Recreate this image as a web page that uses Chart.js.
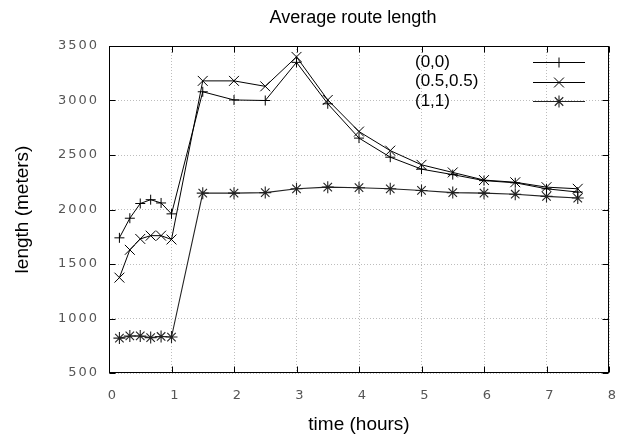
<!DOCTYPE html>
<html><head><meta charset="utf-8">
<script src="https://cdn.jsdelivr.net/npm/chart.js@4/dist/chart.umd.min.js"></script>
<style>html,body{margin:0;padding:0;background:#fff}canvas{display:block}</style>
</head><body>
<canvas id="c" width="617" height="436"></canvas>
<script>
// ---- data ----
const times  = [0.1667, 0.3333, 0.5, 0.6667, 0.8333, 1.0, 1.5, 2.0, 2.5, 3.0, 3.5, 4.0, 4.5, 5.0, 5.5, 6.0, 6.5, 7.0, 7.5];
const len00  = [1740, 1920, 2055, 2090, 2060, 1960, 3080, 3005, 3000, 3350, 2970, 2655, 2480, 2370, 2320, 2265, 2245, 2190, 2160];
const len55  = [1375, 1630, 1730, 1760, 1760, 1725, 3180, 3180, 3130, 3400, 3005, 2715, 2540, 2410, 2340, 2270, 2250, 2205, 2190];
const len11  = [820, 840, 840, 825, 835, 830, 2150, 2150, 2155, 2190, 2205, 2200, 2190, 2175, 2155, 2150, 2140, 2120, 2105];
const seriesLabels = ['(0,0)', '(0.5,0.5)', '(1,1)'];
const xTickMin = 0, xTickMax = 8, xTickStep = 1;
const yTickMin = 500, yTickMax = 3500, yTickStep = 500;
const chartTitle = 'Average route length';
const xTitle = 'time (hours)';
const yTitle = 'length (meters)';

const toPts = arr => times.map((t, i) => ({x: t, y: arr[i]}));

const styles = [
  {pointStyle: 'cross', pointRadius: 5, borderColor: '#000', borderWidth: 1},
  {pointStyle: 'crossRot', pointRadius: 7, borderColor: '#000', borderWidth: 1},
  {pointStyle: 'star', pointRadius: 6, borderColor: '#222', borderWidth: 1.1}
];
const series = [len00, len55, len11];

const TXT = '"Liberation Sans", Arial, sans-serif';

const framePlugin = {
  id: 'frame',
  afterDatasetsDraw(chart) { chart.ctx.letterSpacing = '2px'; },
  afterDraw(chart) {
    const {ctx, chartArea: a, scales: {x, y}} = chart;
    ctx.save();
    ctx.letterSpacing = '0px';
    ctx.strokeStyle = '#000';
    ctx.lineWidth = 1;
    ctx.setLineDash([]);
    const L = Math.round(a.left) + 0.5, R = Math.round(a.right) - 0.5;
    const T = Math.round(a.top) + 0.5, B = Math.round(a.bottom) - 0.5;
    ctx.strokeRect(L, T, R - L, B - T);
    const tl = 6;
    ctx.beginPath();
    x.ticks.forEach(t => {
      const px = Math.round(x.getPixelForValue(t.value)) + 0.5;
      ctx.moveTo(px, B); ctx.lineTo(px, B - tl);
      ctx.moveTo(px, T); ctx.lineTo(px, T + tl);
    });
    y.ticks.forEach(t => {
      const py = Math.round(y.getPixelForValue(t.value)) + 0.5;
      ctx.moveTo(L, py); ctx.lineTo(L + tl, py);
      ctx.moveTo(R, py); ctx.lineTo(R - tl, py);
    });
    ctx.stroke();

    // title
    ctx.fillStyle = '#000';
    ctx.font = '18px ' + TXT;
    ctx.textAlign = 'center';
    ctx.textBaseline = 'alphabetic';
    ctx.fillText(chartTitle, (a.left + a.right) / 2 - 6, 23);

    // legend (text, then sample line with marker)
    ctx.font = '17px ' + TXT;
    ctx.textAlign = 'left';
    ctx.textBaseline = 'middle';
    chart.data.datasets.forEach((ds, i) => {
      const yy = a.top + 16 + i * 19.5;
      ctx.fillStyle = '#000';
      ctx.fillText(ds.label, a.right - 194, yy);
      ctx.strokeStyle = ds.borderColor;
      ctx.lineWidth = ds.borderWidth;
      ctx.beginPath();
      ctx.moveTo(a.right - 76, Math.round(yy) + 0.5);
      ctx.lineTo(a.right - 24, Math.round(yy) + 0.5);
      ctx.stroke();
      Chart.helpers.drawPoint(ctx, {pointStyle: ds.pointStyle, radius: ds.pointRadius, rotation: 0, borderWidth: ds.borderWidth}, a.right - 50, Math.round(yy) + 0.5);
    });
    ctx.restore();
  }
};

new Chart(document.getElementById('c'), {
  type: 'scatter',
  data: {
    datasets: series.map((s, i) => ({
      label: seriesLabels[i],
      data: toPts(s),
      showLine: true,
      tension: 0,
      backgroundColor: 'transparent',
      pointBorderColor: styles[i].borderColor,
      pointBorderWidth: styles[i].borderWidth,
      ...styles[i]
    }))
  },
  options: {
    responsive: false,
    animation: false,
    devicePixelRatio: 1,
    layout: {padding: {top: 46, right: 8, left: 0, bottom: 0}},
    plugins: {legend: {display: false}, title: {display: false}, tooltip: {enabled: false}},
    scales: {
      x: {
        type: 'linear', min: xTickMin, max: xTickMax,
        afterFit: s => { s.height = 63; s.paddingLeft = 0; s.paddingRight = 0; },
        ticks: {stepSize: xTickStep, z: 1, padding: 15, labelOffset: 4, color: '#555', font: {family: '"DejaVu Sans"', size: 13}, maxRotation: 0,
                callback: v => String(v)},
        grid: {color: '#bdbdbd', drawTicks: false, lineWidth: 1},
        border: {display: false, dash: [1, 2]},
        title: {display: true, text: xTitle, color: '#000', font: {family: TXT, size: 19}, padding: {top: 0, bottom: 0}}
      },
      y: {
        type: 'linear', min: yTickMin, max: yTickMax,
        afterFit: s => { s.width = 109; s.paddingTop = 0; s.paddingBottom = 0; },
        ticks: {stepSize: yTickStep, z: 1, padding: 10, color: '#555', font: {family: '"DejaVu Sans"', size: 13},
                callback: v => String(v)},
        grid: {color: '#bdbdbd', drawTicks: false, lineWidth: 1},
        border: {display: false, dash: [1, 2]},
        title: {display: true, text: yTitle, color: '#000', font: {family: TXT, size: 19}, padding: {top: 11, bottom: 0}}
      }
    }
  },
  plugins: [framePlugin]
});
</script>
</body></html>
